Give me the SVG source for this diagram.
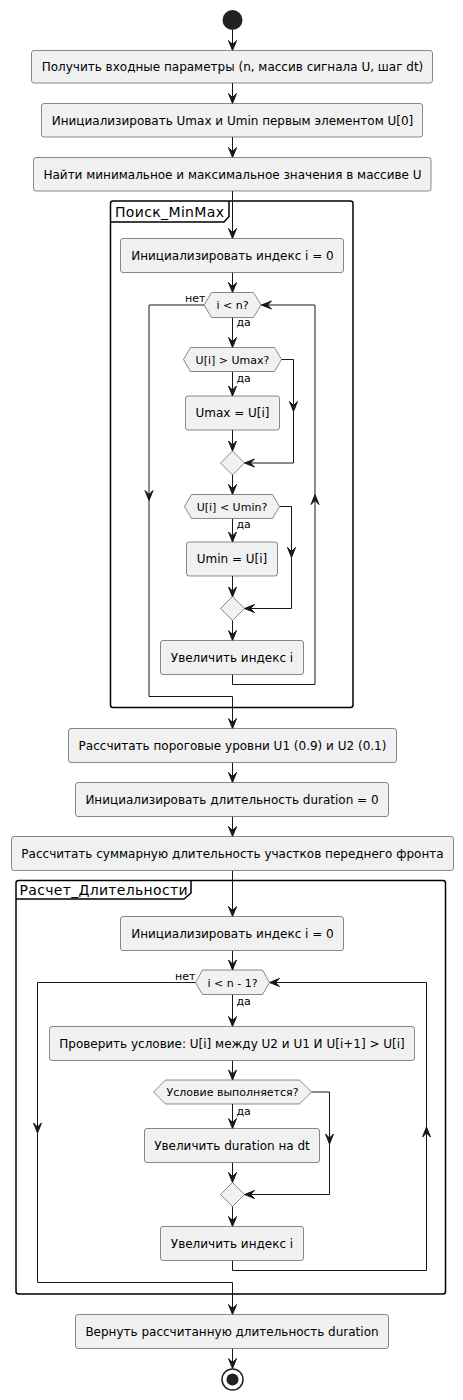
<svg xmlns="http://www.w3.org/2000/svg" width="463" height="1400" viewBox="0 0 463 1400">
<defs>
<style>
.box{fill:#F1F1F1;stroke:#181818;stroke-width:0.5}
.dec{fill:#F1F1F1;stroke:#181818;stroke-width:0.5}
.t{font-family:"DejaVu Sans",sans-serif;font-size:12px;fill:#000;text-anchor:middle}
.td{font-family:"DejaVu Sans",sans-serif;font-size:11px;fill:#000;text-anchor:middle}
.lb{font-family:"DejaVu Sans",sans-serif;font-size:11px;fill:#000}
.ft{font-family:"DejaVu Sans",sans-serif;font-size:14px;fill:#000}
.frame{fill:none;stroke:#000;stroke-width:1.5}
.c{fill:none;stroke:#181818;stroke-width:1}
.ca{fill:none;stroke:#181818;stroke-width:1;marker-end:url(#ah)}
</style>
<marker id="ah" markerUnits="userSpaceOnUse" viewBox="0 -5 10 10" refX="10" refY="0" markerWidth="10" markerHeight="10" orient="auto" overflow="visible">
<path d="M0,-4 L10,0 L0,4 L4,0 Z" fill="#181818" stroke="#181818" stroke-width="1"/>
</marker>
</defs>

<g id="frame-minmax">
<rect class="frame" x="110.5" y="201" width="242.5" height="506.5" rx="2.5"/>
<path class="frame" d="M110.5,222 L224,222 L229,216.5 L229,201"/>
<text class="ft" x="115" y="216.5" textLength="109" lengthAdjust="spacing">Поиск_MinMax</text>
</g>
<g id="frame-duration">
<rect class="frame" x="16" y="880.5" width="429.5" height="413.5" rx="2.5"/>
<path class="frame" d="M16,899 L184,899 L191,893 L191,880.5"/>
<text class="ft" x="19.5" y="894.5" textLength="168" lengthAdjust="spacing">Расчет_Длительности</text>
</g>

<g id="connectors">
<path class="ca" d="M232.5,30 V50.5"/>
<path class="ca" d="M232.5,83 V103.5"/>
<path class="ca" d="M232.5,137 V157.5"/>
<path class="ca" d="M232.5,191 V238.5"/>
<path class="ca" d="M232.5,272.5 V292.5"/>
<path class="ca" d="M232.5,317.5 V347.5"/>
<path class="ca" d="M232.5,371.5 V396"/>
<path class="ca" d="M232.5,430 V451"/>
<path class="ca" d="M281.5,359.5 H293.5 V411.5"/>
<path class="ca" d="M293.5,411.5 V463 H244.5"/>
<path class="ca" d="M232.5,475 V494.5"/>
<path class="ca" d="M232.5,518.5 V542"/>
<path class="ca" d="M232.5,576 V597"/>
<path class="ca" d="M279.5,506.5 H291.5 V557.5"/>
<path class="ca" d="M291.5,557.5 V608.5 H244.5"/>
<path class="ca" d="M232.5,620.5 V640.5"/>
<path class="ca" d="M232.5,674.5 V684.5 H315 V494.5"/>
<path class="ca" d="M315,494.5 V305 H261.5"/>
<path class="ca" d="M204,305 H149 V500.5"/>
<path class="ca" d="M149,500.5 V696.5 H232.5 V728.5"/>
<path class="ca" d="M232.5,762.5 V782.5"/>
<path class="ca" d="M232.5,816.5 V836.5"/>
<path class="ca" d="M232.5,870.5 V916.5"/>
<path class="ca" d="M232.5,950.5 V970"/>
<path class="ca" d="M232.5,994.5 V1026.5"/>
<path class="ca" d="M232.5,1060.5 V1080"/>
<path class="ca" d="M232.5,1104 V1128.5"/>
<path class="ca" d="M311.5,1092 H329.5 V1144"/>
<path class="ca" d="M329.5,1144 V1194.5 H244.5"/>
<path class="ca" d="M232.5,1162.5 V1182.5"/>
<path class="ca" d="M232.5,1206.5 V1226.5"/>
<path class="ca" d="M232.5,1260.5 V1270.5 H426.5 V1127"/>
<path class="ca" d="M426.5,1127 V982.5 H269.5"/>
<path class="ca" d="M195.5,982.5 H37.5 V1133"/>
<path class="ca" d="M37.5,1133 V1282.5 H232.5 V1314.5"/>
<path class="ca" d="M232.5,1348.5 V1368.5"/>
<text class="lb" x="185" y="302">нет</text>
<text class="lb" x="236.5" y="326">да</text>
<text class="lb" x="236.5" y="381.5">да</text>
<text class="lb" x="236.5" y="528">да</text>
<text class="lb" x="175" y="980">нет</text>
<text class="lb" x="236.5" y="1004.5">да</text>
<text class="lb" x="236.5" y="1114.5">да</text>
</g>

<g id="start"><circle cx="232.5" cy="20" r="10" fill="#222222"/></g>

<g id="n1"><rect class="box" x="31.5" y="50.5" width="401" height="32.5" rx="2.5"/><text class="t" x="232.5" y="71">Получить входные параметры (n, массив сигнала U, шаг dt)</text></g>
<g id="n2"><rect class="box" x="41.5" y="103.5" width="381" height="33.5" rx="2.5"/><text class="t" x="232.5" y="124.5">Инициализировать Umax и Umin первым элементом U[0]</text></g>
<g id="n3"><rect class="box" x="33.5" y="157.5" width="397.5" height="33.5" rx="2.5"/><text class="t" x="232.5" y="178.5">Найти минимальное и максимальное значения в массиве U</text></g>

<g id="n4"><rect class="box" x="120.5" y="238.5" width="223" height="34" rx="2.5"/><text class="t" x="232.5" y="259.5">Инициализировать индекс i = 0</text></g>
<g id="d1"><polygon class="dec" points="204,305 211.5,292.5 253.5,292.5 261,305 253.5,317.5 211.5,317.5"/><text class="td" x="232.5" y="309">i &lt; n?</text></g>
<g id="d2"><polygon class="dec" points="183.5,359.5 190.5,347.5 274.5,347.5 281.5,359.5 274.5,371.5 190.5,371.5"/><text class="td" x="232.5" y="363.5">U[i] &gt; Umax?</text></g>
<g id="n5"><rect class="box" x="185.5" y="396" width="94" height="34" rx="2.5"/><text class="t" x="232.5" y="417">Umax = U[i]</text></g>
<g id="m1"><polygon class="dec" points="232.5,451 244.5,463 232.5,475 220.5,463"/></g>
<g id="d3"><polygon class="dec" points="184.5,506.5 191.5,494.5 272.5,494.5 279.5,506.5 272.5,518.5 191.5,518.5"/><text class="td" x="232" y="510.5">U[i] &lt; Umin?</text></g>
<g id="n6"><rect class="box" x="186.5" y="542" width="91" height="34" rx="2.5"/><text class="t" x="232" y="563">Umin = U[i]</text></g>
<g id="m2"><polygon class="dec" points="232.5,596.5 244.5,608.5 232.5,620.5 220.5,608.5"/></g>
<g id="n7"><rect class="box" x="160.5" y="640.5" width="143" height="34" rx="2.5"/><text class="t" x="232" y="661.5">Увеличить индекс i</text></g>

<g id="n8"><rect class="box" x="68.5" y="728.5" width="328" height="34" rx="2.5"/><text class="t" x="232.5" y="749.5">Рассчитать пороговые уровни U1 (0.9) и U2 (0.1)</text></g>
<g id="n9"><rect class="box" x="75.5" y="782.5" width="313" height="34" rx="2.5"/><text class="t" x="232" y="803.5">Инициализировать длительность duration = 0</text></g>
<g id="n10"><rect class="box" x="11.5" y="836.5" width="442" height="34" rx="2.5"/><text class="t" x="232.5" y="857.5">Рассчитать суммарную длительность участков переднего фронта</text></g>

<g id="n11"><rect class="box" x="120.5" y="916.5" width="223" height="34" rx="2.5"/><text class="t" x="232.5" y="937.5">Инициализировать индекс i = 0</text></g>
<g id="d4"><polygon class="dec" points="195.5,982.5 202.5,970 262.5,970 269.5,982.5 262.5,994.5 202.5,994.5"/><text class="td" x="232.5" y="986.5">i &lt; n - 1?</text></g>
<g id="n12"><rect class="box" x="49.5" y="1026.5" width="365" height="34" rx="2.5"/><text class="t" x="232" y="1047.5">Проверить условие: U[i] между U2 и U1 И U[i+1] &gt; U[i]</text></g>
<g id="d5"><polygon class="dec" points="153.5,1092 165.5,1080 299.5,1080 311.5,1092 299.5,1104 165.5,1104"/><text class="td" x="232.5" y="1096">Условие выполняется?</text></g>
<g id="n13"><rect class="box" x="144.5" y="1128.5" width="175" height="34" rx="2.5"/><text class="t" x="232" y="1149.5">Увеличить duration на dt</text></g>
<g id="m3"><polygon class="dec" points="232.5,1182.5 244.5,1194.5 232.5,1206.5 220.5,1194.5"/></g>
<g id="n14"><rect class="box" x="160.5" y="1226.5" width="143" height="34" rx="2.5"/><text class="t" x="232" y="1247.5">Увеличить индекс i</text></g>
<g id="n15"><rect class="box" x="75.5" y="1314.5" width="313" height="34" rx="2.5"/><text class="t" x="232" y="1335.5">Вернуть рассчитанную длительность duration</text></g>

<g id="end"><circle cx="232.5" cy="1379.5" r="10.5" fill="none" stroke="#222222" stroke-width="1.5"/><circle cx="232.5" cy="1379.5" r="6" fill="#222222"/></g>
</svg>
